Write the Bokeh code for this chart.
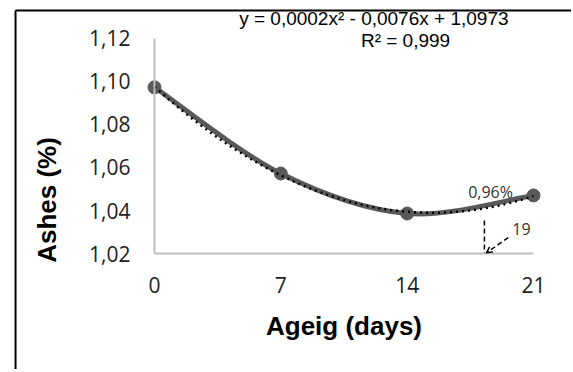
import numpy as np
from bokeh.plotting import figure
from bokeh.models import Range1d, Label, Arrow, OpenHead, FixedTicker, CustomJSTickFormatter, LinearAxis
from bokeh.embed import file_html
from bokeh.resources import INLINE

# ---- data ----
days = [0, 7, 14, 21]
ashes = [1.0973, 1.0572, 1.0386, 1.0470]
x_ticks = [0, 7, 14, 21]
y_ticks = [1.02, 1.04, 1.06, 1.08, 1.10, 1.12]
equation_text = "y = 0,0002x\u00b2 - 0,0076x  + 1,0973"
r2_text = "R\u00b2 = 0,999"
x_title = "Ageig (days)"
y_title = "Ashes (%)"
note_pct = "0,96%"
note_num = "19"

# ---- layout (positions in data units of the full-canvas frame) ----
X_RANGE = (-8.5328, 23.1055)
Y_RANGE = (0.966047, 1.137674)
eq_pos = (12.30, 1.1295)
r2_pos = (13.91, 1.1191)
xtitle_pos = (10.5, 0.9865)
ytitle_pos = (-5.956, 1.0449)
pct_pos = (18.62, 1.0484)
num_pos = (20.33, 1.0316)
vdash = (18.28, 1.0353, 1.0200)
arrow_pts = (19.6, 1.0274, 18.39, 1.0203)
frame_left_x = -7.70
frame_top_y = 1.1330

p = figure(width=571, height=369, output_backend="svg", toolbar_location=None,
           x_range=Range1d(*X_RANGE), y_range=Range1d(*Y_RANGE),
           x_axis_location=None, y_axis_location=None,
           min_border=0, min_border_left=0, min_border_right=0,
           min_border_top=0, min_border_bottom=0)
p.outline_line_color = None
p.grid.visible = False
p.background_fill_color = "white"
p.border_fill_color = "white"

label_font = "Open Sans"
xaxis = LinearAxis(fixed_location=y_ticks[0])
xaxis.bounds = (x_ticks[0], x_ticks[-1])
xaxis.ticker = FixedTicker(ticks=x_ticks)
xaxis.axis_line_color = "#bfbfbf"
xaxis.axis_line_width = 2
xaxis.major_tick_line_color = None
xaxis.minor_tick_line_color = None
xaxis.major_label_text_font = label_font
xaxis.major_label_text_font_size = "21px"
xaxis.major_label_text_color = "#222222"
xaxis.major_label_standoff = 17
p.add_layout(xaxis, "below")

yaxis = LinearAxis(fixed_location=x_ticks[0])
yaxis.bounds = (y_ticks[0], y_ticks[-1])
yaxis.ticker = FixedTicker(ticks=y_ticks)
yaxis.formatter = CustomJSTickFormatter(code="return tick.toFixed(2).replace('.', ',');")
yaxis.axis_line_color = "#bfbfbf"
yaxis.axis_line_width = 2
yaxis.major_tick_line_color = None
yaxis.minor_tick_line_color = None
yaxis.major_label_text_font = label_font
yaxis.major_label_text_font_size = "21px"
yaxis.major_label_text_color = "#222222"
yaxis.major_label_standoff = 18
p.add_layout(yaxis, "left")

# outer frame lines (left and top)
p.segment(x0=[frame_left_x, frame_left_x], y0=[frame_top_y, frame_top_y],
          x1=[frame_left_x, X_RANGE[1]], y1=[Y_RANGE[0], frame_top_y],
          line_color="black", line_width=2)

# smoothed series line (Catmull-Rom -> cubic Bezier)
xs = np.array(days, dtype=float)
ys = np.array(ashes, dtype=float)
n = len(xs)
x0, y0, x1, y1, cx0, cy0, cx1, cy1 = ([] for _ in range(8))
for i in range(n - 1):
    pm = max(i - 1, 0)
    pp = min(i + 2, n - 1)
    x0.append(xs[i]); y0.append(ys[i]); x1.append(xs[i + 1]); y1.append(ys[i + 1])
    cx0.append(xs[i] + (xs[i + 1] - xs[pm]) / 6); cy0.append(ys[i] + (ys[i + 1] - ys[pm]) / 6)
    cx1.append(xs[i + 1] - (xs[pp] - xs[i]) / 6); cy1.append(ys[i + 1] - (ys[pp] - ys[i]) / 6)
p.bezier(x0=x0, y0=y0, x1=x1, y1=y1, cx0=cx0, cy0=cy0, cx1=cx1, cy1=cy1,
         line_color="#595959", line_width=5)
p.scatter(days, ashes, size=13, color="#595959")

# polynomial trend line
coef = np.polyfit(xs, ys, 2)
tx = np.linspace(xs.min(), xs.max(), 200)
p.line(tx, np.polyval(coef, tx), line_color="black", line_width=2.5, line_dash="2 4")

def add_label(pos, text, font, size, color="black", style="normal", angle=0.0):
    p.add_layout(Label(x=pos[0], y=pos[1], text=text, angle=angle, text_align="center",
                       text_baseline="middle", text_font=font, text_font_size=size,
                       text_font_style=style, text_color=color))

add_label(eq_pos, equation_text, "Liberation Sans", "19px")
add_label(r2_pos, r2_text, "Liberation Sans", "19px")
add_label(xtitle_pos, x_title, "Liberation Sans", "26px", style="bold")
add_label(ytitle_pos, y_title, "Liberation Sans", "26px", style="bold", angle=np.pi / 2)
add_label(pct_pos, note_pct, "Open Sans", "16px", color="#333333")
add_label(num_pos, note_num, "Open Sans", "16px", color="#333333")

p.segment(x0=[vdash[0]], y0=[vdash[1]], x1=[vdash[0]], y1=[vdash[2]],
          line_color="black", line_width=1.5, line_dash="5 3")
p.add_layout(Arrow(x_start=arrow_pts[0], y_start=arrow_pts[1], x_end=arrow_pts[2], y_end=arrow_pts[3],
                   line_color="black", line_width=1.5, line_dash="5 3",
                   end=OpenHead(size=6, line_color="black", line_width=1.5)))

open("out.html", "w").write(file_html(p, INLINE))
